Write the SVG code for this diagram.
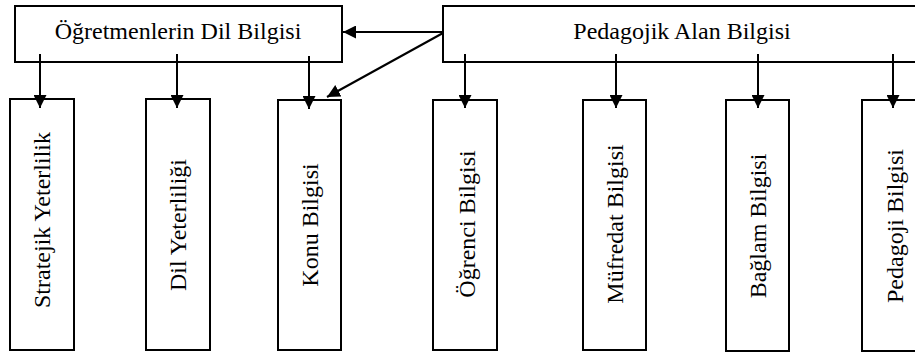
<svg xmlns="http://www.w3.org/2000/svg" width="915" height="356" viewBox="0 0 915 356">
<style>
.box{fill:#fff;stroke:#000;stroke-width:2}
.t{font-family:"Liberation Serif","Times New Roman",serif;font-size:24px;fill:#000;text-anchor:middle}
.c{stroke:#000;stroke-width:2;fill:none;marker-end:url(#ah)}
</style>
<defs>
<marker id="ah" markerUnits="userSpaceOnUse" markerWidth="13" markerHeight="13" viewBox="0 0 12 12" refX="12" refY="6" orient="auto">
<path d="M0,0 L12,6 L0,12 z" fill="#000"/>
</marker>
</defs>
<rect width="915" height="356" fill="#fff"/>
<g id="n-dil">
<rect class="box" x="15" y="6" width="327" height="56"/>
<text class="t" x="178" y="39">Öğretmenlerin Dil Bilgisi</text>
</g>
<g id="n-pab">
<rect class="box" x="443" y="6" width="490" height="56"/>
<text class="t" x="682" y="39">Pedagojik Alan Bilgisi</text>
</g>
<g id="n-strat">
<rect class="box" x="10" y="99" width="64" height="251"/>
<text class="t" transform="translate(42,220) rotate(-90)" y="8">Stratejik Yeterlilik</text>
</g>
<g id="n-dily">
<rect class="box" x="146" y="99" width="64" height="251"/>
<text class="t" transform="translate(178,225) rotate(-90)" y="8">Dil Yeterliliği</text>
</g>
<g id="n-konu">
<rect class="box" x="278" y="100" width="63" height="250"/>
<text class="t" transform="translate(310,225) rotate(-90)" y="8">Konu Bilgisi</text>
</g>
<g id="n-ogr">
<rect class="box" x="433" y="100" width="64" height="250"/>
<text class="t" transform="translate(467,224) rotate(-90)" y="8">Öğrenci Bilgisi</text>
</g>
<g id="n-muf">
<rect class="box" x="583" y="100" width="63" height="250"/>
<text class="t" transform="translate(615,224) rotate(-90)" y="8">Müfredat Bilgisi</text>
</g>
<g id="n-bag">
<rect class="box" x="726" y="100" width="63" height="251"/>
<text class="t" transform="translate(758,226) rotate(-90)" y="8">Bağlam Bilgisi</text>
</g>
<g id="n-ped">
<rect class="box" x="862" y="100" width="64" height="251"/>
<text class="t" transform="translate(895,226) rotate(-90)" y="8">Pedagoji Bilgisi</text>
</g>
<g id="connectors">
<line class="c" x1="443" y1="32" x2="343" y2="32"/>
<line class="c" x1="443" y1="33" x2="327" y2="97"/>
<line class="c" x1="40" y1="54" x2="40" y2="108"/>
<line class="c" x1="177" y1="54" x2="177" y2="108"/>
<line class="c" x1="309" y1="56" x2="309" y2="109"/>
<line class="c" x1="465" y1="54" x2="465" y2="108"/>
<line class="c" x1="616" y1="54" x2="616" y2="108"/>
<line class="c" x1="758" y1="54" x2="758" y2="108"/>
<line class="c" x1="893" y1="54" x2="893" y2="108"/>
</g>
</svg>
